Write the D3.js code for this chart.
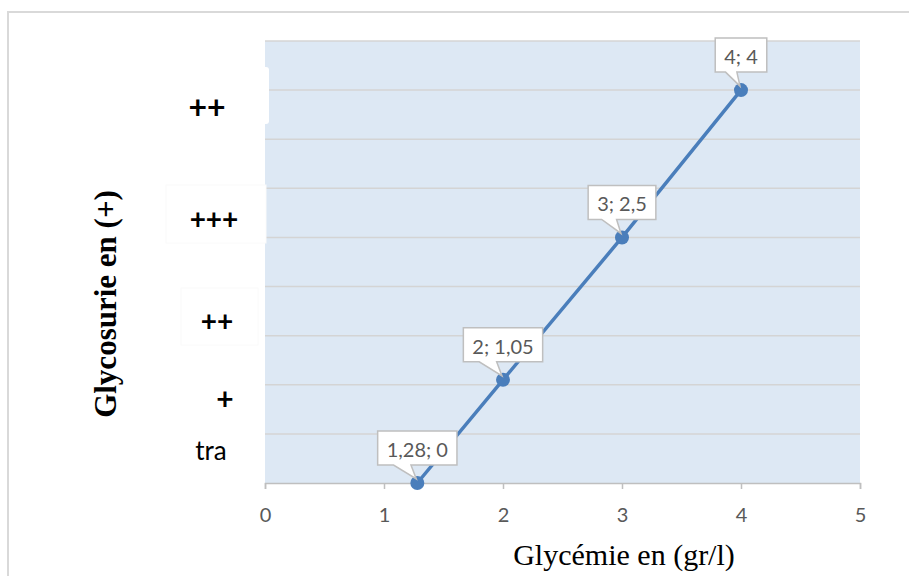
<!DOCTYPE html>
<html>
<head>
<meta charset="utf-8">
<script src="https://cdn.jsdelivr.net/npm/d3@7/dist/d3.min.js"></script>
<style>
  html, body { margin: 0; padding: 0; background: #ffffff; }
  svg { display: block; }
</style>
</head>
<body>
<svg id="chart" width="909" height="576"></svg>
<script>
// Glycémie (g/l) against glycosurie level
const glycemie = [1.28, 2, 3, 4];
const glycosurie = [0, 1.05, 2.5, 4];
const xTicks = [0, 1, 2, 3, 4, 5];
const yGrid = [0, 0.5, 1, 1.5, 2, 2.5, 3, 3.5, 4, 4.5];
// Qualitative levels written beside the vertical axis, and where they sit (data units)
const levelLabels = ["tra", "+", "++", "+++", "++"];
const levelValues = [0.34, 0.87, 1.66, 2.7, 3.83];

const svg = d3.select("#chart");
const W = 909, H = 576;
const plot = { left: 265, right: 860, top: 41, bottom: 483 };

const x = d3.scaleLinear().domain([0, 5]).range([plot.left, plot.right]);
const y = d3.scaleLinear().domain([0, 4.5]).range([plot.bottom, plot.top]);

const fmt = v => String(v).replace(".", ",");

// outer chart frame
svg.append("rect")
  .attr("x", 8).attr("y", 12)
  .attr("width", W + 20).attr("height", H + 20)
  .attr("fill", "none").attr("stroke", "#d9d9d9").attr("stroke-width", 2);

// plot background
svg.append("rect")
  .attr("x", plot.left).attr("y", plot.top)
  .attr("width", plot.right - plot.left).attr("height", plot.bottom - plot.top)
  .attr("fill", "#dde8f4");

// horizontal gridlines
svg.append("g").selectAll("line").data(yGrid.slice(1)).join("line")
  .attr("x1", plot.left).attr("x2", plot.right)
  .attr("y1", d => y(d)).attr("y2", d => y(d))
  .attr("stroke", "#d4d4d4").attr("stroke-width", 1.5);

// text boxes holding the level labels
svg.append("rect")
  .attr("x", 168).attr("y", 67).attr("width", 101).attr("height", 57)
  .attr("rx", 3).attr("fill", "#ffffff");
svg.append("rect")
  .attr("x", 166).attr("y", 185).attr("width", 100).attr("height", 58)
  .attr("fill", "#ffffff").attr("stroke", "#fafafa").attr("stroke-width", 1);
svg.append("rect")
  .attr("x", 181).attr("y", 288).attr("width", 77).attr("height", 57)
  .attr("fill", "#ffffff").attr("stroke", "#fafafa").attr("stroke-width", 1);

// x axis
const xAxis = d3.axisBottom(x).tickValues(xTicks).tickSize(6).tickPadding(19)
  .tickFormat(d => fmt(d));
const gx = svg.append("g").attr("transform", `translate(0,${plot.bottom})`).call(xAxis);
gx.select(".domain").attr("stroke", "#bfbfbf").attr("stroke-width", 1.5);
gx.selectAll(".tick line").attr("stroke", "#bfbfbf").attr("stroke-width", 1.5);
gx.selectAll(".tick text")
  .attr("fill", "#595959")
  .style("font-family", "Lato, 'Open Sans', sans-serif")
  .style("font-size", "20px");

// level labels
const levelSizes = [26, 30, 28, 28, 32];
const levelWeights = [400, 700, 700, 700, 700];
svg.append("g").selectAll("text").data(levelLabels).join("text")
  .attr("x", (d, i) => [211, 225, 217, 214, 207][i])
  .attr("y", (d, i) => y(levelValues[i]))
  .attr("text-anchor", "middle")
  .attr("dominant-baseline", "central")
  .attr("fill", "#000000")
  .style("font-family", "Lato, sans-serif")
  .style("font-size", (d, i) => levelSizes[i] + "px")
  .style("font-weight", (d, i) => levelWeights[i])
  .text(d => d);

// series line and markers
const pts = glycemie.map((g, i) => ({ gx: g, gy: glycosurie[i] }));
svg.append("path")
  .datum(pts)
  .attr("fill", "none")
  .attr("stroke", "#4a7ebb")
  .attr("stroke-width", 3.5)
  .attr("d", d3.line().x(d => x(d.gx)).y(d => y(d.gy)));
svg.append("g").selectAll("circle").data(pts).join("circle")
  .attr("cx", d => x(d.gx)).attr("cy", d => y(d.gy))
  .attr("r", 7).attr("fill", "#4a7ebb");

// value callouts
const callouts = svg.append("g");
pts.forEach(p => {
  const px = x(p.gx), py = y(p.gy);
  const g = callouts.append("g");
  const path = g.append("path");
  const t = g.append("text")
    .attr("text-anchor", "middle")
    .attr("dominant-baseline", "central")
    .attr("fill", "#595959")
    .style("font-family", "Lato, 'Open Sans', sans-serif")
    .style("font-size", "20px")
    .text(`${fmt(p.gx)}; ${fmt(p.gy)}`);
  const tw = t.node().getComputedTextLength();
  const w = tw + 18, h = 34;
  const bottom = py - 18, top = bottom - h;
  const left = px - w / 2, right = px + w / 2;
  const b1 = left + w * 0.2, b2 = left + w * 0.42;
  path.attr("d",
    `M${left},${top} L${right},${top} L${right},${bottom} L${b2},${bottom} ` +
    `L${px - 1},${py - 4} L${b1},${bottom} L${left},${bottom} Z`)
    .attr("fill", "#ffffff").attr("stroke", "#bfbfbf").attr("stroke-width", 1.5);
  t.attr("x", px).attr("y", top + h / 2 + 1);
});

// axis titles
svg.append("text")
  .attr("x", 624).attr("y", 565)
  .attr("text-anchor", "middle")
  .style("font-family", "'Liberation Serif', 'Times New Roman', serif")
  .style("font-size", "30px")
  .attr("fill", "#000000")
  .text("Glycémie en (gr/l)");

svg.append("text")
  .attr("transform", "translate(116,304) rotate(-90)")
  .attr("text-anchor", "middle")
  .style("font-family", "'Liberation Serif', 'Times New Roman', serif")
  .style("font-size", "31px")
  .style("font-weight", "bold")
  .attr("fill", "#000000")
  .text("Glycosurie en (+)");
</script>
</body>
</html>
